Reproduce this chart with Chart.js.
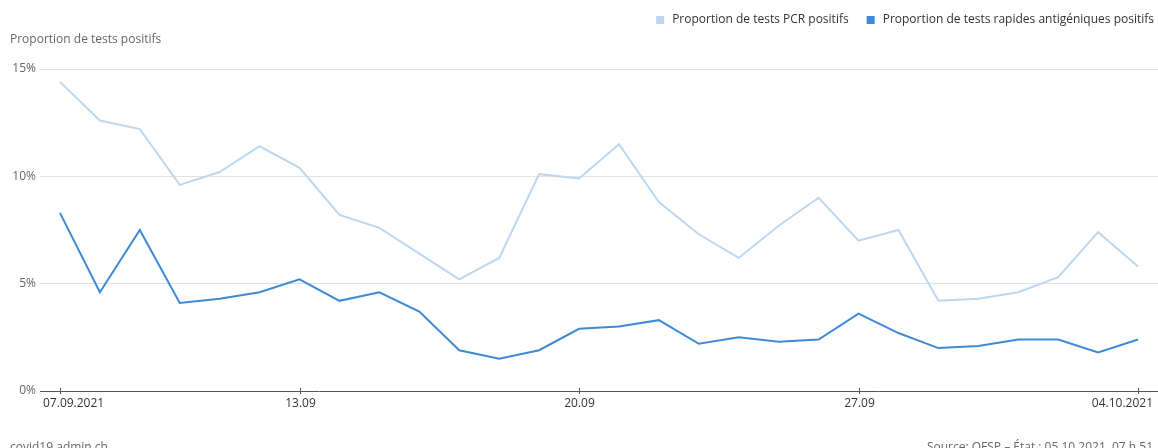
<!DOCTYPE html>
<html>
<head>
<meta charset="utf-8">
<script src="https://cdn.jsdelivr.net/npm/chart.js@4.4.0/dist/chart.umd.min.js"></script>
<style>
  html, body { margin: 0; padding: 0; background: #fff; }
  #wrap { width: 1158px; height: 448px; position: relative; }
</style>
</head>
<body>
<div id="wrap"><canvas id="graf" width="1158" height="448"></canvas></div>
<script>
const dias = ['07.09.2021','08.09','09.09','10.09','11.09','12.09','13.09','14.09','15.09','16.09',
  '17.09','18.09','19.09','20.09','21.09','22.09','23.09','24.09','25.09','26.09','27.09','28.09',
  '29.09','30.09','01.10','02.10','03.10','04.10.2021'];
const rotulosX = [0, 6, 13, 20, 27]; // indices com rótulo
const pcr = [14.4, 12.6, 12.2, 9.6, 10.2, 11.4, 10.4, 8.2, 7.6, 6.4, 5.2, 6.2, 10.1, 9.9, 11.5,
  8.8, 7.3, 6.2, 7.7, 9.0, 7.0, 7.5, 4.2, 4.3, 4.6, 5.3, 7.4, 5.8];
const rapidos = [8.3, 4.6, 7.5, 4.1, 4.3, 4.6, 5.2, 4.2, 4.6, 3.7, 1.9, 1.5, 1.9, 2.9, 3.0,
  3.3, 2.2, 2.5, 2.3, 2.4, 3.6, 2.7, 2.0, 2.1, 2.4, 2.4, 1.8, 2.4];
const ticksY = [0, 5, 10, 15];

const FONTE = 'Open Sans, Lato, sans-serif';
const corPcr = '#bdd7f0';
const corRap = '#3f8ad6';

const extras = {
  id: 'extras',
  afterDraw(chart) {
    const c = chart.ctx;
    const x = chart.scales.x;
    const area = chart.chartArea;
    c.save();
    // título do eixo
    c.font = '12px ' + FONTE;
    c.fillStyle = '#666';
    c.textAlign = 'left';
    c.textBaseline = 'middle';
    c.fillText('Proportion de tests positifs', 10, 40);

    // legenda
    c.textAlign = 'right';
    c.fillStyle = '#333';
    const t2 = 'Proportion de tests rapides antigéniques positifs';
    const t1 = 'Proportion de tests PCR positifs';
    let xr = 1154;
    c.fillText(t2, xr, 20);
    let w2 = c.measureText(t2).width;
    c.fillStyle = corRap;
    c.fillRect(xr - w2 - 16, 16, 8, 8);
    xr = xr - w2 - 34;
    c.fillStyle = '#333';
    c.fillText(t1, xr, 20);
    let w1 = c.measureText(t1).width;
    c.fillStyle = corPcr;
    c.fillRect(xr - w1 - 16, 16, 8, 8);

    // rótulos do eixo x
    c.fillStyle = '#333';
    c.strokeStyle = '#555';
    c.lineWidth = 1;
    rotulosX.forEach((i, k) => {
      const px = Math.round(x.getPixelForValue(i)) + 0.5;
      c.beginPath();
      c.moveTo(px, area.bottom - 3);
      c.lineTo(px, area.bottom + 3);
      c.stroke();
      if (k === 0) { c.textAlign = 'left'; c.fillText(dias[i], 43, 404); }
      else if (k === rotulosX.length - 1) { c.textAlign = 'right'; c.fillText(dias[i], 1153, 404); }
      else { c.textAlign = 'center'; c.fillText(dias[i], px, 404); }
    });

    // rodapé
    c.fillStyle = '#666';
    c.textBaseline = 'alphabetic';
    c.textAlign = 'left';
    c.fillText('covid19.admin.ch', 10, 451);
    c.textAlign = 'right';
    c.fillText('Source: OFSP – État : 05.10.2021, 07 h 51', 1153, 451);
    c.restore();
  }
};

const ctx = document.getElementById('graf').getContext('2d');
const grafico = new Chart(ctx, {
  type: 'line',
  data: {
    labels: dias,
    datasets: [
      { label: 'Proportion de tests PCR positifs', data: pcr, borderColor: corPcr, borderWidth: 2, pointRadius: 0, tension: 0 },
      { label: 'Proportion de tests rapides antigéniques positifs', data: rapidos, borderColor: corRap, borderWidth: 2, pointRadius: 0, tension: 0 }
    ]
  },
  options: {
    responsive: false,
    animation: false,
    devicePixelRatio: 1,
    layout: { padding: { top: 69, left: 0, right: 0, bottom: 57 } },
    plugins: { legend: { display: false }, tooltip: { enabled: false } },
    scales: {
      x: { type: 'category', offset: true, display: false },
      y: {
        min: 0, max: 15,
        afterFit: s => { s.width = 40; },
        afterBuildTicks: s => { s.ticks = ticksY.map(v => ({ value: v })); },
        border: { display: false },
        grid: {
          drawTicks: false,
          color: c => c.tick && c.tick.value === 0 ? '#555' : '#e3e3e3',
          lineWidth: 1
        },
        ticks: {
          padding: 4,
          color: '#666',
          font: { family: FONTE, size: 12 },
          callback: v => v + '%'
        }
      }
    }
  },
  plugins: [extras]
});
</script>
</body>
</html>
